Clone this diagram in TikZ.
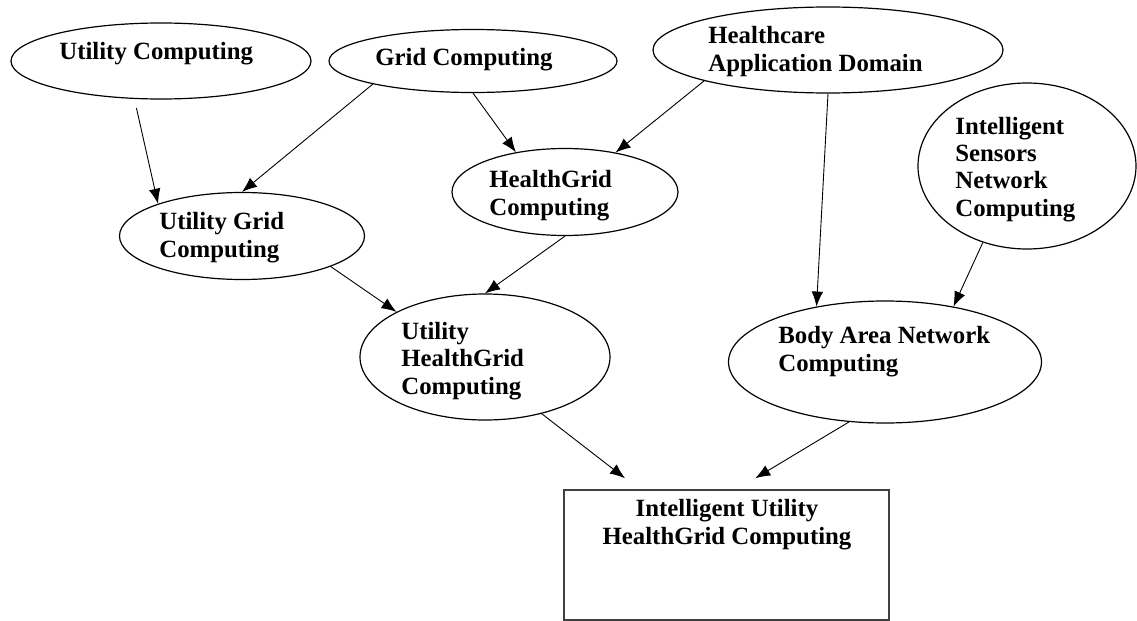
\documentclass[tikz,border=0pt]{standalone}
\usepackage{fontspec}
\setmainfont{Liberation Serif}
\usepackage{tikz}
\usetikzlibrary{arrows.meta}
\usetikzlibrary{shapes.geometric}

\tikzset{
  blob/.style={draw, ellipse, line width=0.6pt, inner sep=0pt},
  goal/.style={draw=black!75, rectangle, line width=0.75pt, inner sep=0pt},
  words/.style={anchor=base west, align=left, inner sep=0pt, font=\fontsize{12.4}{13.6}\selectfont\bfseries},
  feed/.style={-{Latex[length=7.5pt,width=5.8pt]}, line width=0.45pt},
}

\begin{document}
\begin{tikzpicture}[x=0.5pt,y=-0.5pt]
        \useasboundingbox (0,0) rectangle (1137,621);

            % top row
            \node (uc)[blob, minimum width=150pt, minimum height=38pt] at (161,61) {};
            \node (uc-txt)[words] at (59,60) {Utility Computing};

            \node (gc)[blob, minimum width=144pt, minimum height=31.5pt] at (473,61) {};
            \node (gc-txt)[words] at (375,65) {Grid Computing};

            \node (hc)[blob, minimum width=175pt, minimum height=43pt] at (828,50) {};
            \node (hc-txt)[words] at (708,71) {Healthcare\\Application Domain};

            \node (is)[blob, minimum width=109pt, minimum height=83pt] at (1027,166) {};
            \node (is-txt)[words] at (955,216) {Intelligent\\Sensors\\Network\\Computing};

            % middle
            \node (hg)[blob, minimum width=113pt, minimum height=43.5pt] at (565,192) {};
            \node (hg-txt)[words] at (489,215) {HealthGrid\\Computing};

            \node (ug)[blob, minimum width=122.5pt, minimum height=43.5pt] at (242,236) {};
            \node (ug-txt)[words] at (159,257) {Utility Grid\\Computing};

            \node (uhg)[blob, minimum width=125pt, minimum height=63pt] at (485,357) {};
            \node (uhg-txt)[words] at (401,394) {Utility\\HealthGrid\\Computing};

            \node (ban)[blob, minimum width=156.5pt, minimum height=61pt] at (885,362) {};
            \node (ban-txt)[words] at (778,371) {Body Area Network\\Computing};

            % result
            \node (box)[goal, minimum width=162.5pt, minimum height=65pt] at (726.5,555) {};
            \node (box-txt)[words, anchor=base, align=center] at (727,544) {Intelligent Utility\\HealthGrid Computing};

        \draw [feed, shorten <=4.6pt] (uc.235) -- (ug.159);
        \draw [feed] (gc.193) -- (ug.90);
        \draw [feed] (gc.270) -- (hg.141);
        \draw [feed] (hc.194) -- (hg.38);
        \draw [feed] (hc.270) -- (ban.141);
        \draw [feed] (is.240) -- (ban.39);
        \draw [feed] (ug.341) -- (uhg.153);
        \draw [feed] (hg.270) -- (uhg.90);
        \draw [feed, shorten >=9pt] (uhg.315) -- (box.143);
        \draw [feed, shorten >=10.7pt] (ban.239) -- (box.81);
        \end{tikzpicture}
\end{document}
